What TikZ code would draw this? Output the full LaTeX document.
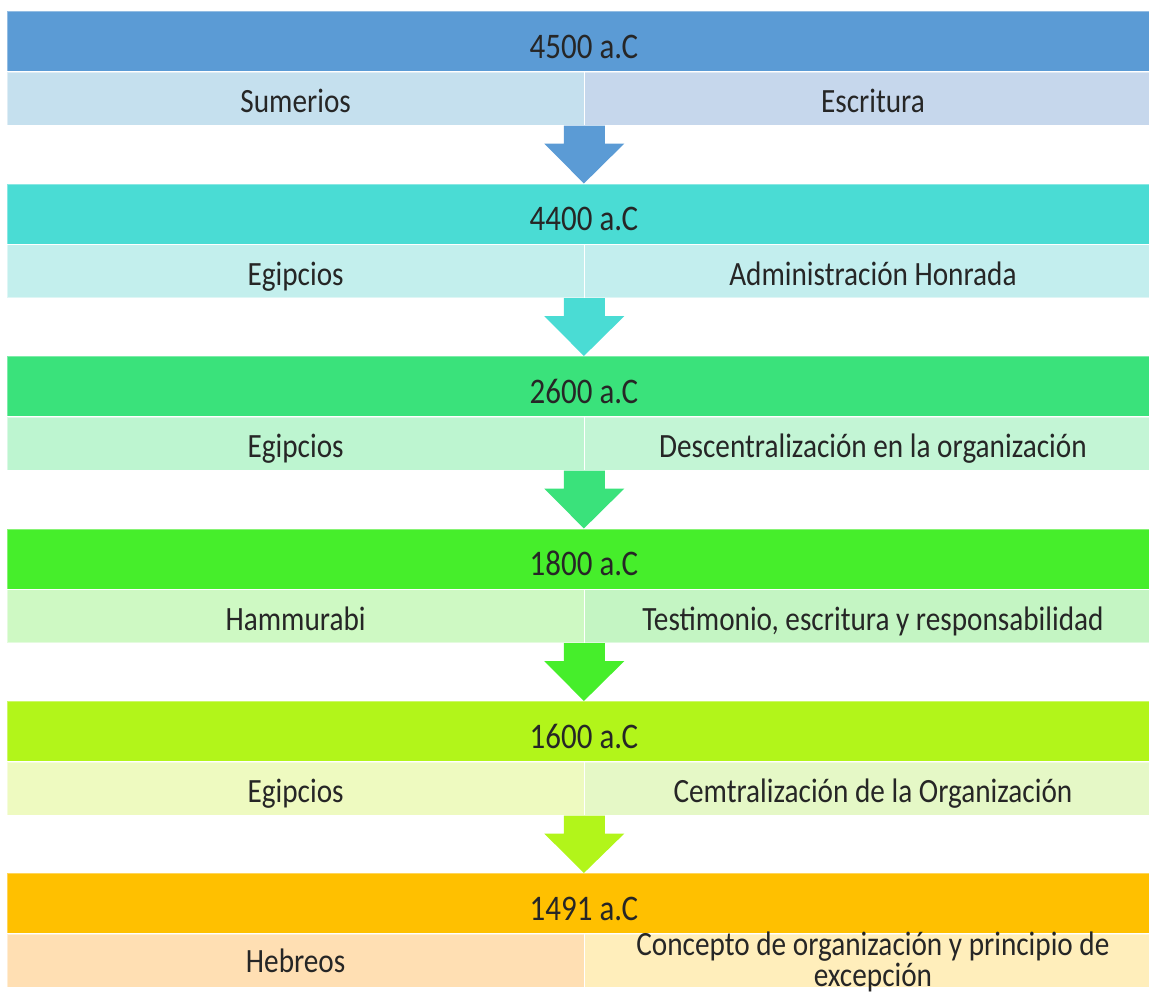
\documentclass[tikz,border=0pt]{standalone}
\usepackage{fontspec}
\setmainfont{Carlito}[FakeStretch=0.86]
\usetikzlibrary{calc}
\definecolor{txt}{HTML}{262626}
\definecolor{topA}{HTML}{5B9BD5}\definecolor{lA}{HTML}{C5E0EE}\definecolor{rA}{HTML}{C6D7EC}
\definecolor{topB}{HTML}{4ADCD4}\definecolor{lB}{HTML}{C3EFED}\definecolor{rB}{HTML}{C3EEEE}
\definecolor{topC}{HTML}{3AE27B}\definecolor{lC}{HTML}{BDF5D0}\definecolor{rC}{HTML}{C3F5D5}
\definecolor{topD}{HTML}{46EE2B}\definecolor{lD}{HTML}{CEF9C3}\definecolor{rD}{HTML}{C4F5C3}
\definecolor{topE}{HTML}{B2F51A}\definecolor{lE}{HTML}{EEFAC0}\definecolor{rE}{HTML}{E5F8C6}
\definecolor{topF}{HTML}{FFC000}\definecolor{lF}{HTML}{FFDFB3}\definecolor{rF}{HTML}{FFEEBB}
\begin{document}
\begin{tikzpicture}[x=1pt,y=-1pt,
  yearbar/.style={inner sep=0pt, minimum width=1153pt, minimum height=60pt, anchor=north west, draw=white, draw opacity=0.35, line width=0.8pt},
  subcell/.style={inner sep=0pt, minimum width=576.5pt, minimum height=53pt, anchor=north west, draw=white, draw opacity=0.45, line width=0.8pt},
  lbl/.style={font=\fontsize{34}{31}\selectfont, text=txt, anchor=base, inner sep=0pt, align=center},
  yrlbl/.style={lbl, font=\fontsize{36}{31}\selectfont}]
\useasboundingbox (0,0) rectangle (1149,991);
\clip (0,0) rectangle (1149,991);
\foreach \i/\yr/\c/\lt/\rt in {
  1/{4500 a.C}/A/{Sumerios}/{Escritura},
  2/{4400 a.C}/B/{Egipcios}/{Administración Honrada},
  3/{2600 a.C}/C/{Egipcios}/{Descentralización en la organización},
  4/{1800 a.C}/D/{Hammurabi}/{Testimonio, escritura y responsabilidad},
  5/{1600 a.C}/E/{Egipcios}/{Cemtralización de la Organización}}{
  \pgfmathsetmacro{\ty}{11+172.5*(\i-1)}
  \node[yearbar, fill=top\c] (top\i) at (7,\ty) {};
  \node[subcell, fill=l\c] (L\i) at ($(top\i.south west)$) {};
  \node[subcell, fill=r\c] (R\i) at ($(L\i.north east)$) {};
  \node[yrlbl] (ytxt\i) at ($(top\i.north)+(0,47)$) {\yr};
  \node[lbl] (ltxt\i) at ($(L\i.north)+(0,41)$) {\lt};
  \node[lbl] (rtxt\i) at ($(R\i.north)+(0,41)$) {\rt};
}
\node[yearbar, fill=topF] (top6) at (7,873) {};
\node[subcell, fill=lF] (L6) at ($(top6.south west)$) {};
\node[subcell, fill=rF] (R6) at ($(L6.north east)$) {};
\node[yrlbl] (ytxt6) at ($(top6.north)+(0,47)$) {1491 a.C};
\node[lbl] (ltxt6) at ($(L6.north)+(0,39)$) {Hebreos};
\node[lbl] (rtxt6) at ($(R6.north)+(0,53)$) {Concepto de organización y principio de\\excepción};
\foreach \i/\j/\c in {1/2/A,2/3/B,3/4/C,4/5/D,5/6/E}{
  \fill[top\c] ($(L\i.south east)+(-20.5,0)$) -- ++(41,0) -- ++(0,18) -- ++(19.5,0)
     -- (top\j.north) -- ($(L\i.south east)+(-40,18)$) -- ++(19.5,0) -- cycle;
}
\end{tikzpicture}
\end{document}
